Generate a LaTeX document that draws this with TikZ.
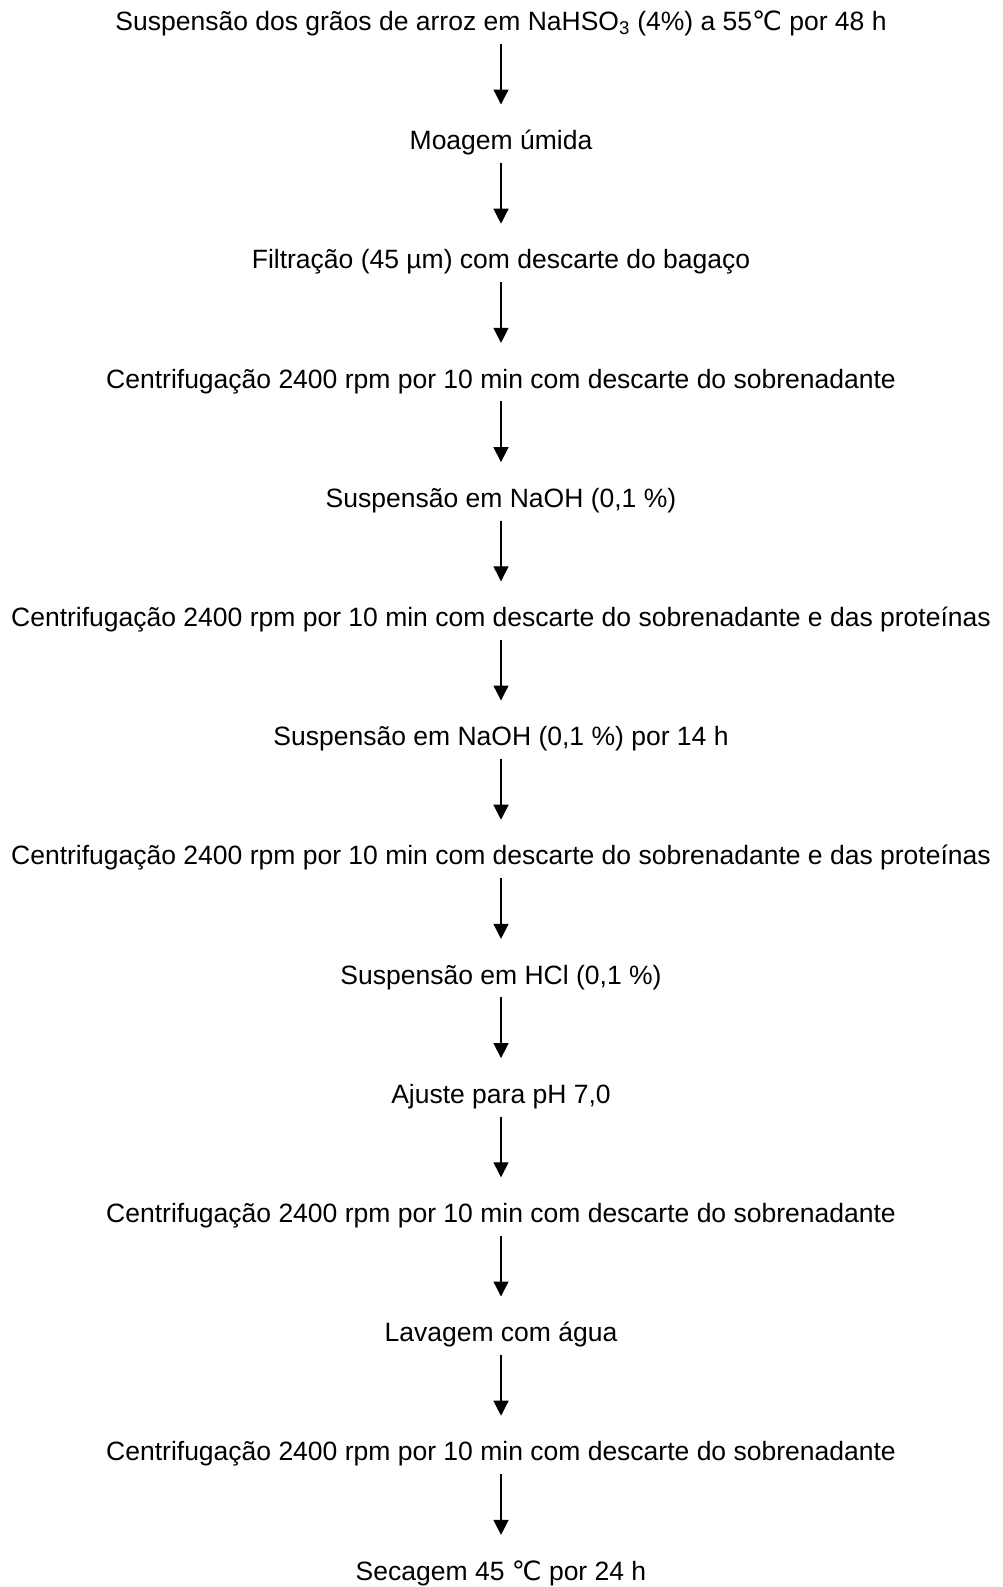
\documentclass[tikz,border=0pt]{standalone}
\usepackage{fontspec}
\setmainfont{Liberation Sans}
\newfontfamily\simbfont{DejaVu Sans}
\newcommand{\graus}{{\simbfont ℃}}
\usetikzlibrary{arrows.meta,positioning}

\begin{document}
\begin{tikzpicture}[x=1pt,y=1pt]
	\useasboundingbox (0,0) rectangle (1002,-1587);
	\begin{scope}[every node/.style={font=\fontsize{26.5}{31}\selectfont,inner sep=0pt,text height=19pt,text depth=7pt},node distance=92.8pt]
		\node (s1) at (501,-24.5) {Suspensão dos grãos de arroz em NaHSO\textsubscript{3} (4\%) a 55\graus{} por 48 h};
		\node[below =of s1] (s2) {Moagem úmida};
		\node[below =of s2] (s3) {Filtração (45 µm) com descarte do bagaço};
		\node[below =of s3] (s4) {Centrifugação 2400 rpm por 10 min com descarte do sobrenadante};
		\node[below =of s4] (s5) {Suspensão em NaOH (0,1 \%)};
		\node[below =of s5] (s6) {Centrifugação 2400 rpm por 10 min com descarte do sobrenadante e das proteínas};
		\node[below =of s6] (s7) {Suspensão em NaOH (0,1 \%) por 14 h};
		\node[below =of s7] (s8) {Centrifugação 2400 rpm por 10 min com descarte do sobrenadante e das proteínas};
		\node[below =of s8] (s9) {Suspensão em HCl (0,1 \%)};
		\node[below =of s9] (s10) {Ajuste para pH 7,0};
		\node[below =of s10] (s11) {Centrifugação 2400 rpm por 10 min com descarte do sobrenadante};
		\node[below =of s11] (s12) {Lavagem com água};
		\node[below =of s12] (s13) {Centrifugação 2400 rpm por 10 min com descarte do sobrenadante};
		\node[below =of s13] (s14) {Secagem 45 \graus{} por 24 h};
	\end{scope}
	
	\begin{scope}[every path/.style={line width=1.3pt,-{Triangle[length=15pt,width=15pt]},shorten <=6pt,shorten >=26pt}]
	\draw (s1) -- (s2);
	\draw (s2) -- (s3);
	\draw (s3) -- (s4);
	\draw (s4) -- (s5);
	\draw (s5) -- (s6);
	\draw (s6) -- (s7);
	\draw (s7) -- (s8);
	\draw (s8) -- (s9);
	\draw (s9) -- (s10);
	\draw (s10) -- (s11);
	\draw (s11) -- (s12);
	\draw (s12) -- (s13);
	\draw (s13) -- (s14);
	\end{scope}
\end{tikzpicture}
\end{document}
